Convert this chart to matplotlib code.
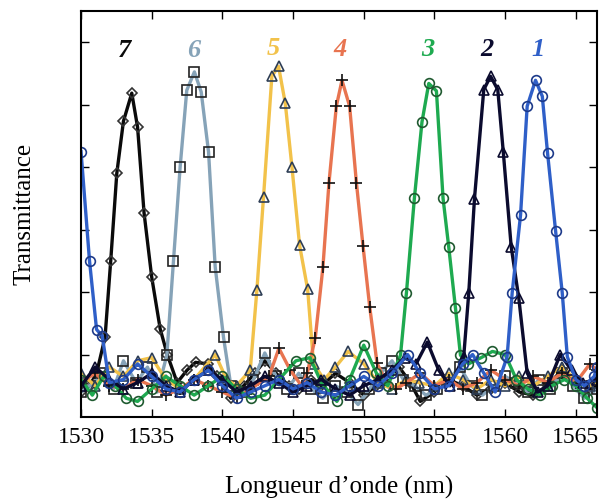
"""
Transmittance spectra of 7 channels (peaks labelled 1..7)
"""

import matplotlib
import matplotlib.pyplot as plt

matplotlib.use('Agg')

# channel 1 (blue, circles)
wl_1 = [1530.0, 1530.6, 1531.1, 1531.5, 1532.0, 1533.0, 1534.0, 1535.0, 1536.0, 1537.0,
        1538.0, 1539.0, 1540.0, 1541.0, 1542.0, 1543.0, 1544.0, 1545.0, 1546.0, 1547.0,
        1548.0, 1549.0, 1550.0, 1551.0, 1552.0, 1553.1, 1554.0, 1555.0, 1556.0, 1557.0,
        1557.7, 1558.5, 1559.3, 1560.14, 1560.5, 1561.09, 1561.56, 1562.15, 1562.63, 1563.0,
        1563.57, 1564.04, 1564.4, 1565.0, 1565.6, 1566.3, 1566.5]
t_1 = [0.85, 0.50, 0.28, 0.26, 0.11, 0.12, 0.17, 0.13, 0.09, 0.08,
       0.12, 0.15, 0.10, 0.06, 0.08, 0.10, 0.12, 0.09, 0.11, 0.08,
       0.07, 0.10, 0.13, 0.10, 0.14, 0.20, 0.14, 0.09, 0.10, 0.17,
       0.20, 0.14, 0.08, 0.193, 0.398, 0.646, 0.995, 1.078, 1.027, 0.846,
       0.596, 0.398, 0.193, 0.12, 0.10, 0.13, 0.16]

# channel 2 (navy, triangles)
wl_2 = [1530.0, 1531.0, 1532.0, 1533.0, 1534.0, 1535.0, 1536.0, 1537.0, 1538.0, 1539.0,
        1540.0, 1541.0, 1542.0, 1543.0, 1544.0, 1545.0, 1546.0, 1547.0, 1548.0, 1549.0,
        1550.0, 1551.0, 1552.0, 1552.9, 1553.7, 1554.5, 1555.3, 1556.1, 1557.07, 1557.43,
        1557.83, 1558.49, 1558.97, 1559.48, 1559.87, 1560.43, 1560.97, 1561.56, 1562.3, 1563.0,
        1563.9, 1564.7, 1565.5, 1566.5]
t_2 = [0.10, 0.16, 0.12, 0.09, 0.11, 0.14, 0.10, 0.08, 0.12, 0.15,
       0.12, 0.08, 0.10, 0.13, 0.11, 0.08, 0.10, 0.12, 0.09, 0.07,
       0.10, 0.12, 0.15, 0.19, 0.17, 0.24, 0.15, 0.10, 0.193, 0.398,
       0.698, 1.048, 1.091, 1.048, 0.849, 0.545, 0.380, 0.141, 0.08, 0.10,
       0.20, 0.15, 0.11, 0.12]

# channel 3 (green, circles)
wl_3 = [1530.0, 1530.8, 1531.6, 1532.4, 1533.2, 1534.0, 1535.0, 1536.0, 1537.0, 1538.0,
        1539.0, 1540.0, 1541.0, 1542.0, 1543.0, 1544.0, 1545.2, 1546.2, 1547.0, 1548.1,
        1549.0, 1550.0, 1550.9, 1551.7, 1552.6, 1553.02, 1553.58, 1554.12, 1554.6, 1555.14,
        1555.61, 1556.01, 1556.49, 1556.84, 1557.4, 1558.3, 1559.1, 1560.0, 1560.8, 1561.6,
        1562.5, 1563.3, 1564.2, 1565.0, 1565.8, 1566.5]
t_3 = [0.12, 0.07, 0.13, 0.10, 0.06, 0.05, 0.09, 0.13, 0.10, 0.07,
       0.10, 0.13, 0.09, 0.06, 0.07, 0.12, 0.18, 0.19, 0.11, 0.05,
       0.12, 0.23, 0.14, 0.10, 0.198, 0.398, 0.70, 0.945, 1.068, 1.044,
       0.70, 0.545, 0.348, 0.198, 0.17, 0.19, 0.21, 0.20, 0.12, 0.09,
       0.07, 0.10, 0.12, 0.10, 0.06, 0.03]

# channel 4 (salmon, plus)
wl_4 = [1530.0, 1531.0, 1532.0, 1533.0, 1534.0, 1535.0, 1536.0, 1537.0, 1538.0, 1539.0,
        1540.0, 1541.0, 1542.0, 1543.3, 1544.0, 1544.8, 1545.6, 1546.0, 1546.57, 1547.11,
        1547.54, 1548.06, 1548.46, 1549.0, 1549.48, 1549.95, 1550.42, 1550.94, 1551.5, 1552.3,
        1553.0, 1554.0, 1555.0, 1556.0, 1557.0, 1558.0, 1559.0, 1560.0, 1561.0, 1562.0,
        1563.0, 1564.0, 1565.0, 1566.0, 1566.5]
t_4 = [0.11, 0.14, 0.10, 0.09, 0.12, 0.10, 0.07, 0.09, 0.12, 0.10,
       0.08, 0.06, 0.09, 0.13, 0.22, 0.15, 0.10, 0.14, 0.253, 0.479,
       0.75, 0.995, 1.078, 0.995, 0.75, 0.547, 0.353, 0.172, 0.12, 0.09,
       0.11, 0.14, 0.10, 0.12, 0.09, 0.11, 0.15, 0.12, 0.10, 0.13,
       0.11, 0.14, 0.11, 0.17, 0.15]

# channel 5 (gold, triangles)
wl_5 = [1530.0, 1531.0, 1532.0, 1533.0, 1534.0, 1535.0, 1536.0, 1537.0, 1538.0, 1539.5,
        1540.3, 1541.0, 1541.97, 1542.44, 1542.91, 1543.5, 1543.97, 1544.45, 1544.92, 1545.46,
        1546.03, 1546.45, 1547.2, 1548.0, 1548.9, 1550.0, 1551.0, 1552.0, 1553.0, 1553.9,
        1555.0, 1556.0, 1557.0, 1558.0, 1559.0, 1560.0, 1561.0, 1562.0, 1563.0, 1564.0,
        1565.0, 1566.0, 1566.5]
t_5 = [0.14, 0.10, 0.16, 0.13, 0.18, 0.19, 0.12, 0.09, 0.12, 0.20,
       0.12, 0.10, 0.15, 0.406, 0.705, 1.091, 1.123, 1.004, 0.801, 0.550,
       0.409, 0.17, 0.12, 0.16, 0.21, 0.17, 0.11, 0.09, 0.12, 0.11,
       0.10, 0.14, 0.12, 0.09, 0.12, 0.10, 0.13, 0.10, 0.13, 0.16,
       0.12, 0.10, 0.11]

# channel 6 (grey-blue, squares)
wl_6 = [1530.0, 1530.6, 1531.5, 1532.3, 1533.0, 1533.9, 1534.7, 1535.4, 1536.07, 1536.54,
        1537.01, 1537.48, 1538.02, 1538.5, 1539.02, 1539.49, 1540.08, 1540.6, 1541.5, 1542.2,
        1543.0, 1543.8, 1544.6, 1545.4, 1546.3, 1547.1, 1548.0, 1548.8, 1549.6, 1550.4,
        1551.2, 1552.0, 1552.8, 1553.6, 1554.4, 1555.2, 1556.0, 1556.8, 1557.6, 1558.4,
        1559.2, 1560.0, 1560.8, 1561.6, 1562.4, 1563.2, 1564.0, 1564.8, 1565.6, 1566.5]
t_6 = [0.08, 0.10, 0.14, 0.09, 0.18, 0.11, 0.16, 0.08, 0.198, 0.50,
       0.80, 1.046, 1.105, 1.041, 0.849, 0.481, 0.255, 0.10, 0.08, 0.12,
       0.205, 0.13, 0.09, 0.14, 0.09, 0.06, 0.10, 0.08, 0.04, 0.09,
       0.14, 0.18, 0.12, 0.10, 0.07, 0.09, 0.12, 0.16, 0.10, 0.07,
       0.10, 0.13, 0.11, 0.08, 0.12, 0.09, 0.14, 0.10, 0.06, 0.09]

# channel 7 (black, diamonds)
wl_7 = [1530.0, 1530.6, 1531.1, 1531.7, 1532.1, 1532.53, 1533.0, 1533.59, 1534.0, 1534.46,
        1535.0, 1535.6, 1536.1, 1536.8, 1537.5, 1538.1, 1539.0, 1539.6, 1540.6, 1541.5,
        1542.3, 1543.0, 1543.8, 1544.7, 1545.4, 1546.3, 1547.0, 1548.0, 1549.0, 1550.0,
        1550.9, 1551.7, 1552.5, 1553.3, 1554.0, 1555.0, 1556.0, 1557.0, 1558.0, 1559.0,
        1560.0, 1561.0, 1562.0, 1563.0, 1564.0, 1565.0, 1566.0, 1566.5]
t_7 = [0.08, 0.10, 0.14, 0.256, 0.50, 0.78, 0.947, 1.037, 0.928, 0.653,
       0.448, 0.282, 0.20, 0.11, 0.15, 0.175, 0.17, 0.13, 0.06, 0.10,
       0.14, 0.18, 0.14, 0.10, 0.09, 0.12, 0.10, 0.14, 0.11, 0.07,
       0.10, 0.13, 0.16, 0.11, 0.05, 0.08, 0.12, 0.10, 0.07, 0.09,
       0.11, 0.08, 0.07, 0.10, 0.15, 0.12, 0.09, 0.10]

peak_labels = ['7', '6', '5', '4', '3', '2', '1']
label_wl = [1533.1, 1537.95, 1543.6, 1548.35, 1554.5, 1558.7, 1562.3]
label_t = [1.175, 1.175, 1.18, 1.178, 1.178, 1.178, 1.178]

colors = {'1': '#2f5fc8', '2': '#0b0b2e', '3': '#1eaa50', '4': '#e87450',
          '5': '#f2c24a', '6': '#86a3b8', '7': '#0a0a0a'}
edges = {'1': '#1d3a8a', '2': '#0b0b2e', '3': '#1f5a30', '4': '#111111',
         '5': '#2e3e55', '6': '#222222', '7': '#333333'}
markers = {'1': 'o', '2': '^', '3': 'o', '4': '+', '5': '^', '6': 's', '7': 'D'}

series = [('7', wl_7, t_7), ('6', wl_6, t_6), ('5', wl_5, t_5), ('4', wl_4, t_4),
          ('3', wl_3, t_3), ('2', wl_2, t_2), ('1', wl_1, t_1)]

serif = ['Liberation Serif', 'DejaVu Serif']

fig = plt.figure(figsize=(6.02, 4.99), dpi=100)
ax = fig.add_axes([0.1346, 0.1643, 0.8571, 0.8137])

for key, wl, t in series:
    ms = 9 if markers[key] == '+' else 7
    if markers[key] == 'D':
        ms = 5.5
    ax.plot(wl, t, color=colors[key], lw=2.4, marker=markers[key], ms=ms,
            mfc='none', mec=edges[key], mew=1.2)

for lab, x, y in zip(peak_labels, label_wl, label_t):
    ax.text(x, y, lab, color=colors[lab], family=serif, fontsize=19,
            fontweight='bold', fontstyle='italic', ha='center', va='center')

ax.set_xlim(1530, 1566.5)
ax.set_ylim(0, 1.3)
ax.set_xticks([1530, 1535, 1540, 1545, 1550, 1555, 1560, 1565])
ax.set_yticks([0.2, 0.4, 0.6, 0.8, 1.0, 1.2])
ax.set_yticklabels([])
ax.tick_params(direction='in', length=6, width=1, top=True, right=True,
               labelsize=17, pad=7)
for lab in ax.get_xticklabels():
    lab.set_family(serif)
for sp in ax.spines.values():
    sp.set_linewidth(1.5)

ax.set_xlabel('Longueur d\u2019onde (nm)', family=serif, fontsize=18, labelpad=20)
ax.set_ylabel('Transmittance', family=serif, fontsize=18, labelpad=26)

plt.savefig('out.png', dpi=100, facecolor='white')
plt.close()
